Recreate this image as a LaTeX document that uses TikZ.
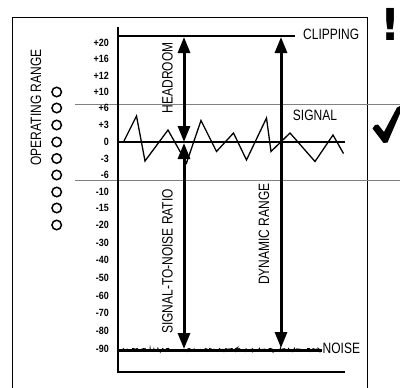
\documentclass[tikz,border=0pt]{standalone}
\usepackage{fontspec}
\setmainfont[FakeStretch=0.8]{Liberation Sans}
\newfontfamily\tickfont[FakeStretch=0.85]{Liberation Sans}
\newfontfamily\bangfont{DejaVu Sans}
\usetikzlibrary{arrows.meta,decorations.pathmorphing}
\tikzset{
  lbl/.style={inner sep=0pt, font=\fontsize{15}{17}\selectfont},
  tick/.style={inner sep=0pt, anchor=east, font=\tickfont\bfseries\fontsize{10.5}{11}\selectfont},
  oprcircle/.style={draw, line width=1.5pt, circle, minimum size=9.5pt, inner sep=0pt},
  guide/.style={draw=black!50, line width=1pt},
  bigarrow/.style={line width=3pt, {Triangle[width=12pt,length=16pt]}-{Triangle[width=12pt,length=16pt]}},
}
\begin{document}
\begin{tikzpicture}[x=1pt,y=-1pt]
\useasboundingbox (0,0) rectangle (400,388);
% outer frame
\draw[line width=1pt] (12,390) -- (12,17) -- (367,17) -- (367,390);
% guide lines
\draw[guide] (75,104) -- (400,104);
\draw[guide] (75,180) -- (400,180);
% axes
\draw[line width=1.4pt] (118,27) -- (118,372) -- (345,372);
% clipping & zero lines
\draw[line width=2.7pt] (118,36) -- (295,36);
\draw[line width=2.3pt] (118,142) -- (345,142);
% noise
\pgfmathsetseed{7}
\draw[line width=3pt] (118,350) -- (322,350);
\draw[line width=1pt, decorate, decoration={random steps, segment length=1.2pt, amplitude=1.6pt}] (118,350) -- (322,350);
% signal wave
\draw[line width=1.3pt, line join=miter]
 (123.5,142) -- (136.5,116) -- (145,161) -- (168,130) -- (186.5,163) -- (201,120.5)
 -- (216.5,151.5) -- (233.5,133) -- (246.5,160) -- (266.5,118) -- (271,151.5)
 -- (290,133) -- (315,161.5) -- (333,135) -- (343.5,153.5);
% arrows
\coordinate (hrT) at (184,37);
\coordinate (hrB) at (184,142);
\coordinate (snT) at (184,143);
\coordinate (snB) at (184,349);
\coordinate (drT) at (281,37);
\coordinate (drB) at (281,348);
\draw[bigarrow] (hrT) -- (hrB);
\draw[bigarrow] (snT) -- (snB);
\draw[bigarrow] (drT) -- (drB);
% labels
\node[lbl, rotate=90] (headroom) at (167.5,78) {HEADROOM};
\node[lbl, rotate=90] (snr) at (167.5,261.5) {SIGNAL-TO-NOISE RATIO};
\node[lbl, rotate=90] (dynr) at (264,234) {DYNAMIC RANGE};
\node[lbl, rotate=90] (opr) at (36,107.5) {OPERATING RANGE};
\node[lbl, anchor=west] (clip) at (303,34.5) {CLIPPING};
\node[lbl] (signal) at (315,115) {SIGNAL};
\node[lbl, anchor=west] (noise) at (322.5,348.5) {NOISE};
% ticks
\foreach \t/\y [count=\i] in {+20/43,+16/59,+12/76,+10/92,+6/108,+3/125,0/142,-3/159,-6/175,-10/192,-15/208,-20/225,-30/243,-40/260,-50/278,-60/296,-70/313,-80/331,-90/349}
  \node[tick] (t\i) at (109,\y) {\t};
% circles
\foreach \y [count=\i] in {92,108,125,142,158.5,175,192,208,225}
  \node[oprcircle] (c\i) at (56.7,\y) {};
% exclamation
\node[inner sep=0pt, font=\bangfont\bfseries\fontsize{44}{44}\selectfont] (bang) at (391,24) {!};
% check mark
\fill (372.5,128.5) .. controls (373.5,125.5) and (376,124) .. (378,124.5)
  -- (384,132) -- (397,107.5) -- (400,106) -- (400,113.5) -- (387.5,142.5)
  -- (383.5,143) -- cycle;
\end{tikzpicture}
\end{document}
